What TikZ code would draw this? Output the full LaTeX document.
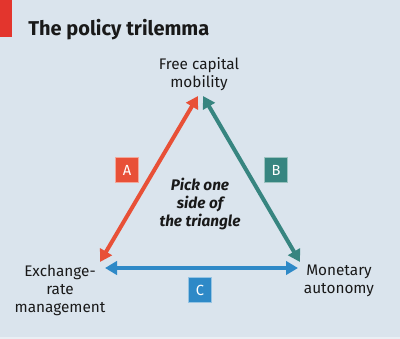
\documentclass[tikz,border=0pt]{standalone}
\usepackage{fontspec}
\setmainfont{Fira Sans}
\usetikzlibrary{arrows.meta}
\definecolor{bgink}{RGB}{218, 228, 237}
\definecolor{tabink}{RGB}{227, 53, 45}
\definecolor{redink}{RGB}{232, 80, 55}
\definecolor{tealink}{RGB}{55, 133, 128}
\definecolor{blueink}{RGB}{46, 137, 199}
\definecolor{txtink}{RGB}{25, 25, 25}

\begin{document}
\begin{tikzpicture}[x=0.75pt, y=-0.75pt, font=\fontsize{11.5}{13.5}\selectfont, text=txtink,
  side/.style={line width=3pt, {Triangle[length=9pt,width=10pt]}-{Triangle[length=9pt,width=10pt]}},
  tag/.style={fill=#1, draw=white!50!#1, line width=0.5pt, text=white, minimum width=17.25pt, minimum height=18.75pt, inner sep=0pt, font=\fontsize{11}{13}\selectfont}]
  \useasboundingbox (0,0) rectangle (400,339);
  \fill[bgink] (0,0) rectangle (400,339);
  \fill[bgink!60!white] (0,337) rectangle (400,339);
  \fill[tabink] (0,0) rectangle (12,37);
  \node[anchor=base west, inner sep=0pt, font=\bfseries\fontsize{15}{18}\selectfont] (title) at (28,36) {The policy trilemma};
  % corners
  \node[align=center] (capital) at (199,74) {Free capital\\mobility};
  \node[align=center] (exchange) at (60,290) {Exchange-\\rate\\management};
  \node[align=center] (monetary) at (339,281) {Monetary\\autonomy};
  \coordinate (capA) at (198,96);
  \coordinate (capB) at (203,96);
  \coordinate (exA) at (100,262);
  \coordinate (exC) at (105,268);
  \coordinate (monB) at (300,262);
  \coordinate (monC) at (298,268);
  \draw[side, redink] (capA) -- (exA);
  \draw[side, tealink] (capB) -- (monB);
  \draw[side, blueink] (exC) -- (monC);
  \node[tag=redink] (tagA) at (127,170) {A};
  \node[tag=tealink] (tagB) at (276,170) {B};
  \node[tag=blueink] (tagC) at (200,290) {C};
  \node[align=center, font=\bfseries\itshape\fontsize{11.5}{13.2}\selectfont] (pick) at (200,204) {Pick one\\side of\\the triangle};
\end{tikzpicture}
\end{document}
